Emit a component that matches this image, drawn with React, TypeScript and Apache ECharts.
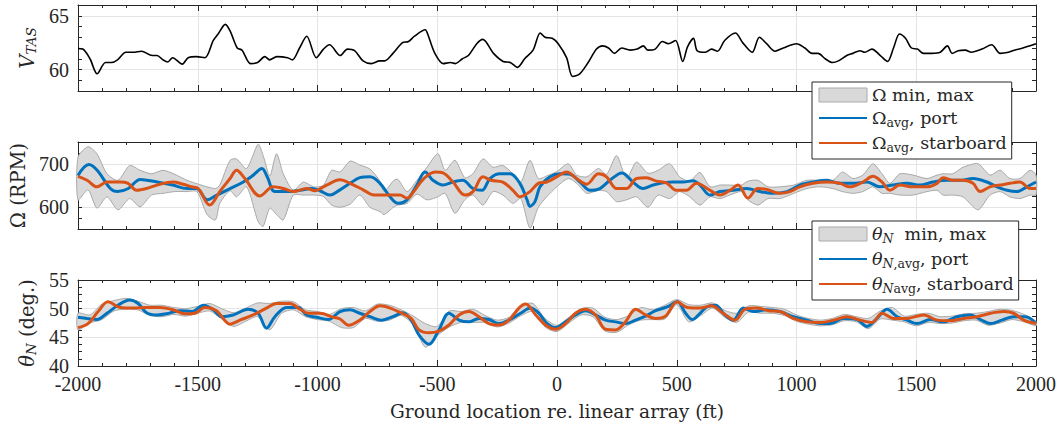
import React, { useEffect, useRef } from 'react';
import * as echarts from 'echarts';

const FONT_NUM = "'Liberation Serif', 'DejaVu Serif', serif";
const FONT_TXT = "'DejaVu Serif', 'Liberation Serif', serif";
const INK = '#262626';
const BLUE = '#0072BD';
const ORANGE = '#D95319';
const GRID_C = '#e4e4e4';
const BAND_FILL = '#d9d9d9';
const BAND_EDGE = '#a9a9a9';

// ---------- x axis ----------
const X_MIN = -2000;
const X_MAX = 2000;
const X_STEP = 500;
const X_TITLE = 'Ground location re. linear array (ft)';

// ---------- panel 1: V_TAS ----------
const vtas: [number, number][] = [
  [-2000, 61.95], [-1980, 61.9], [-1950, 61.0], [-1920, 59.6], [-1885, 60.65], [-1860, 60.65], [-1835, 60.9],
  [-1800, 61.6], [-1770, 61.6], [-1735, 61.7], [-1690, 61.3], [-1670, 61.3], [-1645, 60.9], [-1625, 60.7],
  [-1605, 61.1], [-1565, 60.5], [-1540, 61.1], [-1505, 61.2], [-1470, 61.1], [-1435, 62.7], [-1415, 63.3],
  [-1385, 64.2], [-1365, 63.6], [-1335, 62.0], [-1315, 61.8], [-1280, 60.55], [-1250, 60.65], [-1220, 61.2],
  [-1200, 60.9], [-1170, 61.2], [-1125, 61.1], [-1105, 60.9], [-1075, 62.0], [-1045, 63.1], [-1005, 61.1],
  [-975, 61.9], [-950, 62.3], [-905, 61.3], [-875, 61.9], [-845, 61.75], [-810, 60.8], [-775, 60.55],
  [-740, 60.8], [-720, 60.8], [-685, 61.5], [-645, 62.5], [-620, 62.6], [-595, 63.1], [-550, 63.7],
  [-540, 63.3], [-510, 61.5], [-475, 60.55], [-445, 60.65], [-425, 60.55], [-395, 61.0], [-370, 61.3],
  [-335, 62.4], [-310, 62.8], [-265, 61.5], [-225, 60.75], [-195, 60.65], [-165, 60.2], [-135, 61.0],
  [-100, 61.8], [-70, 63.4], [-50, 63.0], [-20, 62.9], [5, 62.4], [40, 61.1], [65, 59.35], [95, 59.6],
  [130, 60.65], [165, 61.9], [190, 62.2], [215, 62.0], [240, 61.5], [270, 62.0], [305, 61.8], [335, 61.9],
  [360, 62.2], [380, 61.8], [410, 61.9], [440, 62.6], [465, 62.4], [495, 62.7], [525, 60.75], [545, 62.1],
  [570, 62.9], [585, 61.75], [620, 61.6], [645, 61.9], [670, 61.7], [700, 62.7], [745, 63.4], [775, 62.5],
  [815, 61.6], [845, 63.0], [875, 62.4], [910, 61.7], [945, 62.0], [1000, 62.4], [1035, 62.0], [1065, 61.5],
  [1090, 61.5], [1120, 61.0], [1150, 60.65], [1175, 60.8], [1210, 61.3], [1235, 61.5], [1265, 61.75],
  [1285, 61.6], [1315, 61.9], [1350, 61.3], [1380, 60.75], [1405, 62.0], [1430, 63.3], [1455, 62.9],
  [1480, 62.0], [1505, 61.9], [1530, 61.5], [1565, 61.5], [1600, 61.6], [1630, 62.2], [1650, 61.5],
  [1675, 61.75], [1705, 61.8], [1730, 61.6], [1775, 61.9], [1815, 62.3], [1850, 61.5], [1885, 61.6],
  [1910, 61.8], [1945, 62.0], [1975, 62.2], [2000, 62.4],
];

// ---------- panel 2: Omega (RPM) ----------
const omegaPort: [number, number][] = [
  [-2000, 673], [-1955, 698], [-1920, 685], [-1865, 643], [-1835, 636], [-1790, 643], [-1740, 664], [-1670, 658],
  [-1605, 651], [-1545, 643], [-1505, 643], [-1460, 617], [-1420, 628], [-1365, 643], [-1310, 658], [-1270, 673],
  [-1232, 689], [-1210, 670], [-1178, 636], [-1127, 636], [-1073, 639], [-1023, 643], [-990, 638], [-948, 628],
  [-906, 640], [-864, 655], [-823, 668], [-781, 670], [-739, 655], [-697, 624], [-664, 609], [-626, 617],
  [-585, 651], [-551, 681], [-518, 662], [-476, 651], [-434, 658], [-393, 662], [-351, 643], [-313, 639],
  [-280, 666], [-238, 677], [-196, 677], [-155, 655], [-125, 617], [-113, 602], [-92, 613], [-71, 647],
  [-29, 670], [12, 677], [54, 676], [96, 658], [138, 639], [179, 643], [221, 662], [271, 679], [317, 658],
  [359, 643], [401, 651], [442, 656], [484, 658], [526, 658], [568, 661], [597, 651], [639, 628], [680, 636],
  [735, 639], [793, 643], [847, 636], [902, 632], [960, 636], [1014, 651], [1069, 658], [1127, 662],
  [1181, 655], [1236, 655], [1294, 658], [1348, 647], [1403, 651], [1461, 655], [1515, 651], [1570, 658],
  [1628, 662], [1682, 662], [1737, 666], [1795, 658], [1837, 647], [1879, 639], [1920, 636], [1962, 647],
  [2000, 658],
];
const omegaStar: [number, number][] = [
  [-2000, 671], [-1962, 662], [-1921, 647], [-1879, 658], [-1824, 658], [-1791, 655], [-1756, 639], [-1714, 643],
  [-1658, 653], [-1603, 658], [-1561, 653], [-1526, 647], [-1498, 643], [-1450, 605], [-1408, 636], [-1365, 666],
  [-1338, 685], [-1303, 666], [-1241, 626], [-1185, 647], [-1143, 643], [-1101, 636], [-1046, 643], [-1011, 638],
  [-962, 651], [-906, 663], [-864, 655], [-806, 639], [-764, 628], [-722, 628], [-656, 628], [-626, 621],
  [-598, 636], [-556, 666], [-509, 681], [-476, 679], [-434, 658], [-385, 628], [-351, 636], [-309, 670],
  [-276, 662], [-226, 658], [-184, 639], [-155, 624], [-113, 636], [-78, 655], [-43, 658], [-1, 670], [40, 681],
  [82, 666], [124, 653], [173, 677], [207, 670], [249, 643], [290, 643], [332, 666], [373, 668], [415, 660],
  [457, 656], [498, 639], [540, 639], [582, 655], [639, 639], [680, 628], [722, 639], [756, 651], [797, 621],
  [839, 643], [877, 641], [931, 632], [973, 636], [1014, 647], [1069, 655], [1127, 658], [1181, 655],
  [1223, 647], [1277, 658], [1319, 671], [1357, 658], [1390, 639], [1432, 651], [1486, 647], [1545, 647],
  [1587, 655], [1612, 668], [1653, 662], [1695, 662], [1737, 655], [1766, 636], [1808, 647], [1850, 651],
  [1891, 655], [1933, 658], [1975, 643], [2000, 643],
];
const omegaBandX = [
  -2000, -1958, -1921, -1879, -1833, -1784, -1741, -1693, -1645, -1597, -1545, -1503, -1461, -1426, -1408, -1365,
  -1338, -1296, -1248, -1227, -1199, -1171, -1143, -1101, -1059, -1017, -976, -941, -906, -864, -823, -781, -739,
  -722, -681, -664, -626, -585, -543, -497, -467, -426, -385, -351, -309, -267, -226, -184, -151, -113, -78, -43,
  -1, 47, 82, 124, 173, 207, 249, 290, 332, 380, 422, 470, 512, 554, 597, 639, 680, 722, 770, 797, 839, 881, 931,
  989, 1043, 1097, 1152, 1192, 1236, 1277, 1319, 1357, 1390, 1432, 1486, 1545, 1587, 1612, 1653, 1695, 1758, 1808,
  1850, 1891, 1933, 1975, 2000,
];
const omegaMax = [
  715, 739, 723, 677, 662, 696, 685, 677, 685, 676, 662, 654, 647, 643, 651, 708, 711, 689, 745, 719, 672, 723, 677,
  639, 658, 647, 650, 685, 681, 706, 697, 688, 660, 636, 662, 664, 636, 662, 692, 723, 685, 708, 668, 677, 711, 692,
  696, 677, 658, 708, 666, 672, 682, 700, 674, 670, 689, 676, 719, 666, 704, 678, 685, 700, 670, 660, 680, 647, 651,
  651, 651, 660, 662, 647, 647, 651, 662, 662, 662, 681, 666, 674, 700, 677, 655, 677, 674, 666, 674, 677, 677, 692,
  700, 674, 685, 666, 666, 685, 674,
];
const omegaMin = [
  617, 640, 598, 624, 594, 620, 601, 628, 632, 636, 636, 636, 583, 571, 609, 638, 624, 647, 567, 556, 598, 583, 571,
  628, 628, 628, 625, 605, 600, 607, 628, 600, 590, 583, 601, 605, 609, 630, 617, 624, 632, 586, 617, 628, 605, 636,
  628, 609, 620, 552, 600, 624, 647, 666, 655, 632, 639, 636, 613, 617, 624, 600, 628, 620, 636, 624, 605, 624, 620,
  628, 636, 617, 605, 620, 620, 632, 643, 647, 643, 636, 632, 636, 647, 632, 632, 628, 628, 636, 639, 628, 628, 624,
  594, 628, 636, 624, 620, 628, 628,
];

// ---------- panel 3: theta_N (deg.) ----------
const thetaPort: [number, number][] = [
  [-2000, 48.5], [-1962, 48.3], [-1921, 48.1], [-1879, 49.2], [-1833, 50.6], [-1784, 51.5], [-1749, 50.9],
  [-1714, 49.3], [-1670, 48.9], [-1631, 49.1], [-1575, 49.65], [-1526, 49.5], [-1475, 50.6], [-1436, 49.8],
  [-1400, 48.6], [-1352, 48.9], [-1289, 49.9], [-1248, 49.2], [-1213, 46.6], [-1178, 48.6], [-1129, 50.2],
  [-1080, 50.2], [-1046, 48.9], [-1004, 48.5], [-955, 48.1], [-906, 49.5], [-864, 49.8], [-823, 49.2],
  [-781, 48.6], [-732, 48.0], [-685, 48.6], [-643, 49.3], [-609, 48.0], [-576, 45.4], [-534, 43.8], [-493, 46.3],
  [-451, 49.2], [-409, 48.0], [-368, 47.7], [-326, 48.3], [-284, 48.1], [-242, 47.4], [-201, 48.0], [-152, 49.2],
  [-110, 50.1], [-76, 49.2], [-41, 47.4], [-6, 46.7], [36, 47.7], [77, 48.9], [119, 49.65], [161, 48.9],
  [203, 48.0], [245, 47.7], [286, 47.4], [328, 48.0], [370, 48.7], [412, 49.65], [460, 50.3], [502, 51.2],
  [537, 49.2], [565, 48.1], [593, 49.0], [625, 50.3], [662, 50.6], [701, 48.9], [736, 48.0], [778, 50.1],
  [820, 49.5], [876, 49.8], [931, 49.5], [987, 48.6], [1043, 48.0], [1099, 47.4], [1141, 47.4], [1196, 48.3],
  [1252, 48.1], [1294, 46.9], [1336, 48.3], [1378, 49.9], [1420, 48.6], [1461, 48.0], [1503, 47.4], [1559, 48.1],
  [1614, 47.7], [1670, 48.6], [1726, 48.9], [1768, 48.1], [1810, 47.4], [1858, 48.0], [1907, 48.6], [1956, 48.6],
  [2000, 47.4],
];
const thetaStar: [number, number][] = [
  [-2000, 46.7], [-1958, 47.4], [-1916, 49.5], [-1875, 51.2], [-1824, 50.2], [-1770, 50.1], [-1714, 50.2],
  [-1658, 50.2], [-1603, 49.8], [-1554, 49.1], [-1512, 49.2], [-1470, 50.2], [-1422, 49.65], [-1365, 47.3],
  [-1324, 48.0], [-1269, 48.9], [-1213, 50.1], [-1171, 50.9], [-1115, 50.9], [-1073, 49.9], [-1039, 49.2],
  [-990, 49.2], [-934, 48.5], [-906, 48.2], [-870, 47.1], [-823, 48.0], [-781, 49.5], [-739, 50.5], [-697, 50.1],
  [-648, 49.2], [-609, 48.3], [-576, 46.3], [-534, 45.8], [-493, 46.1], [-451, 47.15], [-409, 48.9], [-368, 49.5],
  [-326, 48.6], [-284, 47.4], [-242, 47.15], [-201, 48.0], [-159, 50.1], [-131, 50.8], [-89, 48.9], [-48, 47.15],
  [-6, 46.4], [36, 47.4], [77, 49.2], [119, 49.9], [161, 48.9], [203, 46.4], [245, 46.3], [286, 47.7], [328, 49.9],
  [370, 48.9], [412, 48.3], [453, 48.7], [502, 51.2], [544, 50.2], [597, 50.1], [645, 50.5], [694, 49.2],
  [743, 48.0], [785, 49.9], [834, 50.1], [883, 49.65], [931, 49.5], [987, 48.3], [1043, 47.7], [1099, 47.6],
  [1155, 48.0], [1210, 48.6], [1266, 48.0], [1315, 47.6], [1357, 49.2], [1406, 48.3], [1461, 48.3], [1531, 48.9],
  [1587, 48.0], [1642, 47.9], [1698, 48.3], [1754, 48.6], [1810, 49.2], [1865, 49.5], [1907, 49.2], [1949, 48.0],
  [2000, 47.4],
];
const thetaBandX = [
  -2000, -1950, -1900, -1850, -1800, -1750, -1700, -1650, -1600, -1550, -1500, -1450, -1400, -1350, -1300, -1250,
  -1200, -1150, -1100, -1050, -1000, -950, -900, -850, -800, -750, -700, -650, -600, -550, -500, -450, -400, -350,
  -300, -250, -200, -150, -100, -50, 0, 50, 100, 150, 200, 250, 300, 350, 400, 450, 500, 550, 600, 650, 700, 750,
  800, 850, 900, 950, 1000, 1050, 1100, 1150, 1200, 1250, 1300, 1350, 1400, 1450, 1500, 1550, 1600, 1650, 1700,
  1750, 1800, 1850, 1900, 1950, 2000,
];
const thetaMin = [
  46.3, 47.5, 48.1, 49.6, 49.9, 49.8, 48.8, 48.6, 49.0, 48.7, 49.2, 49.6, 48.2, 46.9, 47.8, 48.6, 46.3, 49.2, 49.8,
  48.6, 48.1, 47.8, 46.7, 46.7, 48.3, 47.8, 48.0, 48.8, 47.2, 43.3, 45.3, 46.8, 47.6, 47.6, 47.6, 46.8, 47.5, 48.8,
  49.5, 46.8, 46.0, 47.5, 48.9, 48.6, 46.1, 45.9, 47.2, 48.0, 48.1, 48.2, 50.7, 47.7, 48.8, 50.1, 48.5, 47.6, 49.4,
  49.2, 49.2, 48.8, 47.8, 47.3, 47.0, 47.2, 47.9, 47.7, 46.5, 48.2, 48.0, 47.7, 47.0, 47.6, 47.4, 47.5, 47.9, 48.0,
  47.1, 47.5, 48.1, 47.7, 47.0,
];
const thetaMax = [
  49.2, 48.9, 50.8, 51.4, 51.8, 51.3, 50.6, 50.6, 50.2, 50.0, 50.4, 50.9, 50.0, 49.3, 50.1, 51.0, 50.9, 51.3, 51.2,
  49.8, 49.5, 49.0, 50.0, 50.2, 49.6, 50.8, 50.6, 49.8, 48.7, 47.4, 46.9, 49.6, 49.5, 49.9, 48.8, 48.0, 48.5, 50.6,
  50.9, 48.3, 47.1, 48.5, 50.0, 50.1, 48.5, 48.1, 48.8, 50.2, 49.8, 50.6, 51.6, 50.7, 50.6, 51.0, 49.7, 49.2, 50.5,
  50.4, 50.2, 49.9, 48.9, 48.3, 48.0, 48.3, 49.0, 48.6, 48.3, 49.6, 50.2, 48.7, 49.0, 49.2, 48.6, 48.7, 49.1, 49.2,
  49.5, 49.9, 49.7, 49.0, 47.8,
];

// ---------- labels ----------
const legendLabels: Record<string, string> = {
  omBand: '{r|Ω min, max}',
  omPort: '{r|Ω}{s|avg}{r|, port}',
  omStar: '{r|Ω}{s|avg}{r|, starboard}',
  thBand: '{i|θ}{si|N}{r|  min, max}',
  thPort: '{i|θ}{si|N}{s|,avg}{r|, port}',
  thStar: '{i|θ}{si|N}{s|avg}{r|, starboard}',
};

function richSet(size: number, subSize: number) {
  return {
    r: { fontFamily: FONT_TXT, fontSize: size, color: INK, lineHeight: 22 },
    i: { fontFamily: FONT_TXT, fontSize: size, color: INK, fontStyle: 'italic', lineHeight: 22 },
    s: { fontFamily: FONT_TXT, fontSize: subSize, color: INK, lineHeight: 10, verticalAlign: 'bottom' },
    si: { fontFamily: FONT_TXT, fontSize: subSize, color: INK, fontStyle: 'italic', lineHeight: 10, verticalAlign: 'bottom' },
  };
}
const legendRich = richSet(17.5, 12.5);
const nameRich = richSet(19.5, 13.5);

const numFont = { fontFamily: FONT_NUM, fontSize: 20, color: INK, lineHeight: 14 };
const txtFont = { fontFamily: FONT_TXT, fontSize: 18.5, color: INK };

function xAxesFor(gi: number, withLabels: boolean, name?: string) {
  const common = {
    type: 'value',
    gridIndex: gi,
    min: X_MIN,
    max: X_MAX,
    interval: X_STEP,
    axisLine: { show: true, onZero: false, lineStyle: { color: INK, width: 1 } },
    axisTick: { show: true, inside: true, length: 6, lineStyle: { color: INK, width: 1 } },
    minorTick: { show: true, splitNumber: 5, length: 3, lineStyle: { color: INK, width: 1 } },
    minorSplitLine: { show: false },
  };
  return [
    {
      ...common,
      position: 'bottom',
      axisLabel: { show: withLabels, ...numFont, margin: 11, formatter: (v: number) => String(v) },
      splitLine: { show: true, lineStyle: { color: GRID_C, width: 1 } },
      name: name || '',
      nameLocation: 'middle',
      nameGap: 36,
      nameTextStyle: { ...txtFont },
    },
    {
      ...common,
      position: 'top',
      axisLabel: { show: false },
      splitLine: { show: false },
    },
  ];
}

function yAxesFor(
  gi: number, min: number, max: number, step: number, labelEvery: number,
  gridAt: number[], name: string, nameGap: number, labelPad: number[] = [0, 0, 0, 0],
) {
  const n = Math.round((max - min) / step) + 1;
  const colors: string[] = [];
  for (let k = 0; k < n; k++) {
    const v = min + k * step;
    colors.push(gridAt.some((g) => Math.abs(g - v) < 1e-6) ? GRID_C : 'rgba(0,0,0,0)');
  }
  const isMajor = (v: number) => Math.abs(v / labelEvery - Math.round(v / labelEvery)) < 1e-6;
  const common = {
    type: 'value',
    gridIndex: gi,
    min,
    max,
    interval: step,
    axisLine: { show: true, onZero: false, lineStyle: { color: INK, width: 1 } },
    axisTick: { show: true, inside: true, length: 4, lineStyle: { color: INK, width: 1 } },
  };
  return [
    {
      ...common,
      position: 'left',
      axisLabel: {
        show: true, ...numFont, margin: 9, padding: labelPad,
        formatter: (v: number) => (isMajor(v) ? String(Math.round(v)) : ''),
      },
      splitLine: { show: true, lineStyle: { color: colors, width: 1 } },
      name,
      nameLocation: 'middle',
      nameGap,
      nameTextStyle: { ...txtFont, rich: nameRich },
    },
    {
      ...common,
      position: 'right',
      axisLabel: { show: false },
      splitLine: { show: false },
    },
  ];
}

function bandSeries(name: string, axisIdx: number, xs: number[], lo: number[], hi: number[]) {
  return {
    type: 'custom',
    name,
    coordinateSystem: 'cartesian2d',
    xAxisIndex: axisIdx,
    yAxisIndex: axisIdx,
    silent: true,
    z: 1,
    itemStyle: { color: BAND_FILL, borderColor: BAND_EDGE, borderWidth: 1 },
    data: [[xs[0], lo[0]]],
    renderItem: (params: any, api: any) => {
      if (params.dataIndex !== 0) return null;
      const pts: number[][] = [];
      for (let k = 0; k < xs.length; k++) pts.push(api.coord([xs[k], hi[k]]));
      for (let k = xs.length - 1; k >= 0; k--) pts.push(api.coord([xs[k], lo[k]]));
      return {
        type: 'polygon',
        shape: { points: pts, smooth: 0.25 },
        style: { fill: BAND_FILL, stroke: BAND_EDGE, lineWidth: 1 },
      };
    },
  };
}

function lineSeries(name: string, axisIdx: number, data: [number, number][], color: string, width: number) {
  return {
    type: 'line',
    name,
    xAxisIndex: axisIdx,
    yAxisIndex: axisIdx,
    data,
    symbol: 'none',
    showSymbol: false,
    smooth: 0.35,
    z: 3,
    lineStyle: { color, width },
    itemStyle: { color },
  };
}

function legendFor(top: number, names: string[]) {
  return {
    orient: 'vertical',
    left: 812,
    top,
    align: 'left',
    backgroundColor: '#ffffff',
    borderColor: INK,
    borderWidth: 1,
    borderRadius: 0,
    padding: [4, 5, 5, 6],
    itemGap: 5,
    itemWidth: 48,
    itemHeight: 14,
    selectedMode: false,
    textStyle: { ...txtFont, rich: legendRich },
    formatter: (n: string) => legendLabels[n],
    data: names.map((n, k) =>
      k === 0
        ? { name: n, icon: 'rect', itemStyle: { color: BAND_FILL, borderColor: BAND_EDGE, borderWidth: 1 } }
        : { name: n, itemStyle: { color: 'rgba(0,0,0,0)', borderWidth: 0, opacity: 0 } },
    ),
  };
}

export default function App() {
  const ref = useRef<HTMLDivElement>(null);
  useEffect(() => {
    if (!ref.current) return;
    const chart = echarts.init(ref.current, undefined, { renderer: 'svg' });
    const option: any = {
      animation: false,
      backgroundColor: '#ffffff',
      grid: [
        { left: 78, top: 5, width: 958, height: 86 },
        { left: 78, top: 142, width: 958, height: 87 },
        { left: 78, top: 280, width: 958, height: 86 },
      ],
      xAxis: [...xAxesFor(0, false), ...xAxesFor(1, false), ...xAxesFor(2, true, X_TITLE)],
      yAxis: [
        ...yAxesFor(0, 58, 66, 1, 5, [60, 65], '{i|V}{si|TAS}', 37),
        ...yAxesFor(1, 550, 750, 25, 100, [600, 700], '{r|Ω (RPM)}', 37),
        ...yAxesFor(2, 40, 55, 1.25, 5, [45, 50], '{i|θ}{si|N}{r| (deg.)}', 37, [0, 0, 4, 0]),
      ],
      legend: [
        legendFor(82, ['omBand', 'omPort', 'omStar']),
        legendFor(221, ['thBand', 'thPort', 'thStar']),
      ],
      series: [
        { ...lineSeries('vtas', 0, vtas, '#000000', 1.6), smooth: 0.3 },
        bandSeries('omBand', 2, omegaBandX, omegaMin, omegaMax),
        lineSeries('omPort', 2, omegaPort, BLUE, 3),
        lineSeries('omStar', 2, omegaStar, ORANGE, 3),
        bandSeries('thBand', 4, thetaBandX, thetaMin, thetaMax),
        lineSeries('thPort', 4, thetaPort, BLUE, 3),
        lineSeries('thStar', 4, thetaStar, ORANGE, 3),
      ],
    };
    chart.setOption(option);
    return () => chart.dispose();
  }, []);
  return (
    <div
      ref={ref}
      style={{ position: 'fixed', left: 0, top: 0, width: 1062, height: 430, background: '#fff' }}
    />
  );
}
